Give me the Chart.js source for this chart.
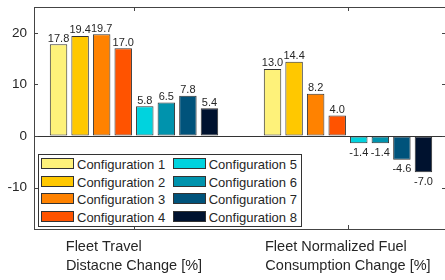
<!DOCTYPE html>
<html>
<head>
<meta charset="utf-8">
<script src="https://cdn.jsdelivr.net/npm/chart.js@4/dist/chart.umd.min.js"></script>
<style>
html, body { margin: 0; padding: 0; background: #fff; overflow: hidden; }
#wrap { position: relative; width: 447px; height: 280px; }
#legend {
  position: absolute; left: 38px; top: 154px; width: 262px; height: 71px;
  border: 1px solid #333; background: #fff;
  font: 13px "Liberation Sans", Arial, sans-serif; color: #262626;
}
.item { position: absolute; height: 11px; line-height: 11px; white-space: nowrap; }
.sw { display: inline-block; width: 31px; height: 9px; border: 1px solid #333; vertical-align: top; margin-right: 3px; }
.txt { position: relative; top: 1px; }
</style>
</head>
<body>
<div id="wrap">
  <canvas id="myChart"></canvas>
  <div id="legend"></div>
</div>
<script>
// chart data
const categories = [
  ["Fleet Travel", "Distacne Change [%]"],
  ["Fleet Normalized Fuel", "Consumption Change [%]"]
];
const configNames = ["Configuration 1", "Configuration 2", "Configuration 3", "Configuration 4",
                     "Configuration 5", "Configuration 6", "Configuration 7", "Configuration 8"];
const travelChange = [17.8, 19.4, 19.7, 17.0, 5.8, 6.5, 7.8, 5.4];
const fuelChange = [13.0, 14.4, 8.2, 4.0, -1.4, -1.4, -4.6, -7.0];
const yTicks = [-10, 0, 10, 20];
const colors = ["#FEF27A", "#FFC800", "#FF8200", "#FF5300", "#00D3DE", "#0093AD", "#00537B", "#00122F"];

const FONT = '"Liberation Sans", Arial, sans-serif';
const AXIS = "#444";

// pad shorter lines with spaces so the centred lines start at the same x
function padLines(lines, size) {
  const c = document.createElement("canvas").getContext("2d");
  c.font = size + "px " + FONT;
  const maxW = Math.max(...lines.map(l => c.measureText(l).width));
  return lines.map(l => {
    let s = l;
    while (c.measureText(s + " ").width <= maxW + 2) s += " ";
    return s;
  });
}
const xLabels = categories.map(l => padLines(l, 14.5));

const datasets = configNames.map((name, i) => ({
  label: name,
  data: [{ x: 1, y: travelChange[i] }, { x: 2, y: fuelChange[i] }],
  backgroundColor: colors[i],
  borderColor: "#333",
  borderWidth: 1,
  borderSkipped: false,
  categoryPercentage: 0.806,
  barPercentage: 0.81
}));

// value labels on bars
const valueLabels = {
  id: "valueLabels",
  afterDatasetsDraw(chart) {
    const ctx = chart.ctx;
    ctx.save();
    ctx.font = "11px " + FONT;
    ctx.fillStyle = "#262626";
    ctx.textAlign = "center";
    chart.data.datasets.forEach((ds, i) => {
      chart.getDatasetMeta(i).data.forEach((bar, j) => {
        const v = ds.data[j].y;
        if (v >= 0) {
          ctx.textBaseline = "alphabetic";
          ctx.fillText(v.toFixed(1), bar.x, bar.y - 2.5);
        } else {
          ctx.textBaseline = "top";
          ctx.fillText(v.toFixed(1), bar.x, bar.y + 4);
        }
      });
    });
    ctx.restore();
  }
};

// box + inward tick marks like matlab
const boxTicks = {
  id: "boxTicks",
  afterDraw(chart) {
    const ctx = chart.ctx;
    const a = chart.chartArea;
    const xs = chart.scales.x, ys = chart.scales.y;
    ctx.save();
    ctx.strokeStyle = AXIS;
    ctx.lineWidth = 1;
    ctx.beginPath();
    ctx.moveTo(a.left, a.top + 0.5); ctx.lineTo(a.right, a.top + 0.5);
    ctx.moveTo(a.right - 0.5, a.top); ctx.lineTo(a.right - 0.5, a.bottom);
    yTicks.forEach(v => {
      const p = Math.round(ys.getPixelForValue(v)) + 0.5;
      ctx.moveTo(a.left, p); ctx.lineTo(a.left + 4, p);
      ctx.moveTo(a.right, p); ctx.lineTo(a.right - 4, p);
    });
    [1, 2].forEach(v => {
      const p = Math.round(xs.getPixelForValue(v)) + 0.5;
      ctx.moveTo(p, a.top); ctx.lineTo(p, a.top + 4);
      ctx.moveTo(p, a.bottom); ctx.lineTo(p, a.bottom - 4);
    });
    ctx.stroke();
    ctx.restore();
  }
};

const chart = new Chart(document.getElementById("myChart"), {
  type: "bar",
  data: { datasets: datasets },
  options: {
    responsive: true,
    maintainAspectRatio: false,
    animation: false,
    layout: { padding: { top: 7, right: 1, left: 0, bottom: 0 } },
    plugins: { legend: { display: false }, tooltip: { enabled: false } },
    scales: {
      x: {
        type: "linear",
        offset: false,
        min: 0.5327,
        max: 2.458,
        afterBuildTicks: s => { s.ticks = [{ value: 1 }, { value: 2 }]; },
        afterFit: s => { s.height = 51; s.paddingLeft = 0; s.paddingRight = 0; },
        grid: { display: false, offset: false },
        border: { display: true, color: AXIS },
        ticks: {
          autoSkip: false,
          maxRotation: 0,
          padding: 0,
          color: "#262626",
          font: { family: FONT, size: 14.5, lineHeight: 1.35 },
          callback: v => xLabels[v - 1]
        }
      },
      y: {
        min: -18,
        max: 25,
        afterBuildTicks: s => { s.ticks = yTicks.map(v => ({ value: v })); },
        afterFit: s => { s.width = 34; s.paddingTop = 0; s.paddingBottom = 0; },
        grid: {
          drawTicks: false,
          color: c => (c.tick && c.tick.value === 0 ? "#333" : "rgba(0,0,0,0)")
        },
        border: { display: true, color: AXIS },
        ticks: {
          padding: 7,
          color: "#262626",
          font: { family: FONT, size: 13.5 },
          callback: v => String(v)
        }
      }
    }
  },
  plugins: [valueLabels, boxTicks]
});

// legend in two columns, filled top to bottom
const legend = document.getElementById("legend");
chart.data.datasets.forEach((ds, i) => {
  const col = Math.floor(i / 4), row = i % 4;
  const item = document.createElement("div");
  item.className = "item";
  item.style.left = (col === 0 ? 2 : 133.7) + "px";
  item.style.top = (3.3 + row * 17.5) + "px";
  item.innerHTML = '<span class="sw" style="background:' + ds.backgroundColor + '"></span><span class="txt">' + ds.label + "</span>";
  legend.appendChild(item);
});
</script>
</body>
</html>
